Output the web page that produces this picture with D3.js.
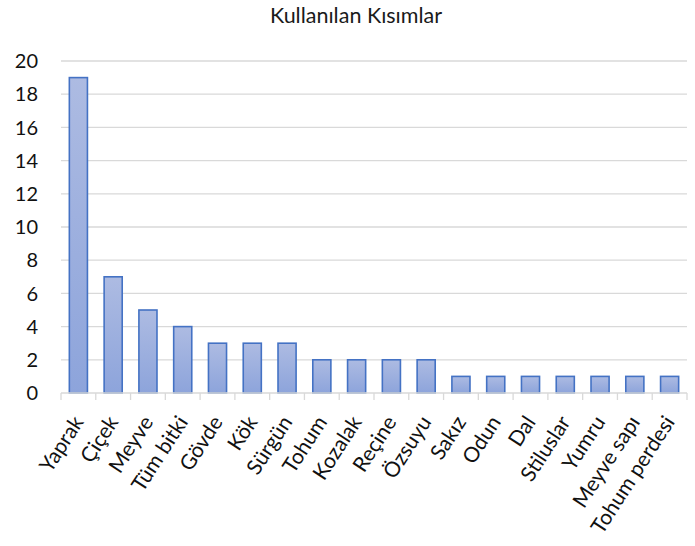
<!DOCTYPE html>
<html><head><meta charset="utf-8">
<script src="https://cdn.jsdelivr.net/npm/d3@7"></script>
<style>body{margin:0;background:#fff;} text{font-family:Lato,"Open Sans",sans-serif;}</style>
</head><body>
<svg id="chart" width="695" height="546"></svg>
<script>
const categories = ["Yaprak","Çiçek","Meyve","Tüm bitki","Gövde","Kök","Sürgün","Tohum","Kozalak","Reçine","Özsuyu","Sakız","Odun","Dal","Stiluslar","Yumru","Meyve sapı","Tohum perdesi"];
const values = [19,7,5,4,3,3,3,2,2,2,2,1,1,1,1,1,1,1];
const yTicks = [0,2,4,6,8,10,12,14,16,18,20];
const title = "Kullanılan Kısımlar";

(function(){
const svg = d3.select("#chart");
const L = 61, R = 687, T = 61, B = 393;
const x = d3.scaleBand().domain(categories).range([L, R]).paddingInner(0.48).paddingOuter(0.24);
const y = d3.scaleLinear().domain([0, 20]).range([B, T]);

const defs = svg.append("defs");
const grad = defs.append("linearGradient").attr("id","g").attr("x1",0).attr("y1",0).attr("x2",0).attr("y2",1);
grad.append("stop").attr("offset","0%").attr("stop-color","#adbbe2");
grad.append("stop").attr("offset","100%").attr("stop-color","#8da4db");

svg.append("text").attr("x", 356).attr("y", 23).attr("text-anchor","middle")
  .attr("font-size", 21.5).attr("fill","#1a1a1a").text(title);

svg.append("g").selectAll("line").data(yTicks.filter(d=>d>0)).join("line")
  .attr("x1", L).attr("x2", R).attr("y1", d=>y(d)).attr("y2", d=>y(d))
  .attr("stroke","#d9d9d9").attr("stroke-width",1.3);

svg.append("g").selectAll("text").data(yTicks).join("text")
  .attr("x", 38).attr("y", d=>y(d)).attr("dy","0.36em").attr("text-anchor","end")
  .attr("font-size", 20).attr("fill","#111").text(d=>d);

svg.append("g").selectAll("rect").data(values).join("rect")
  .attr("x", (d,i)=>x(categories[i])).attr("width", x.bandwidth())
  .attr("y", d=>y(d)).attr("height", d=>B - y(d))
  .attr("fill","url(#g)").attr("stroke","#4472c4").attr("stroke-width",1.6);

const step = x.step();
const xa = svg.append("g");
xa.append("line").attr("x1", L).attr("x2", R).attr("y1", B).attr("y2", B)
  .attr("stroke","#d9d9d9").attr("stroke-width",1.3);
const tickPos = d3.range(categories.length+1).map(i => L + i*step);
xa.selectAll("line.t").data(tickPos).join("line").attr("class","t")
  .attr("x1", d=>d).attr("x2", d=>d).attr("y1", B).attr("y2", B+7)
  .attr("stroke","#d9d9d9").attr("stroke-width",1.3);

xa.selectAll("text").data(categories).join("text")
  .attr("transform", d=>`translate(${x(d)+x.bandwidth()/2+6},${B+29}) rotate(-57)`)
  .attr("text-anchor","end")
  .attr("font-size", 21).attr("fill","#111").text(d=>d);
})();
</script>
</body></html>
